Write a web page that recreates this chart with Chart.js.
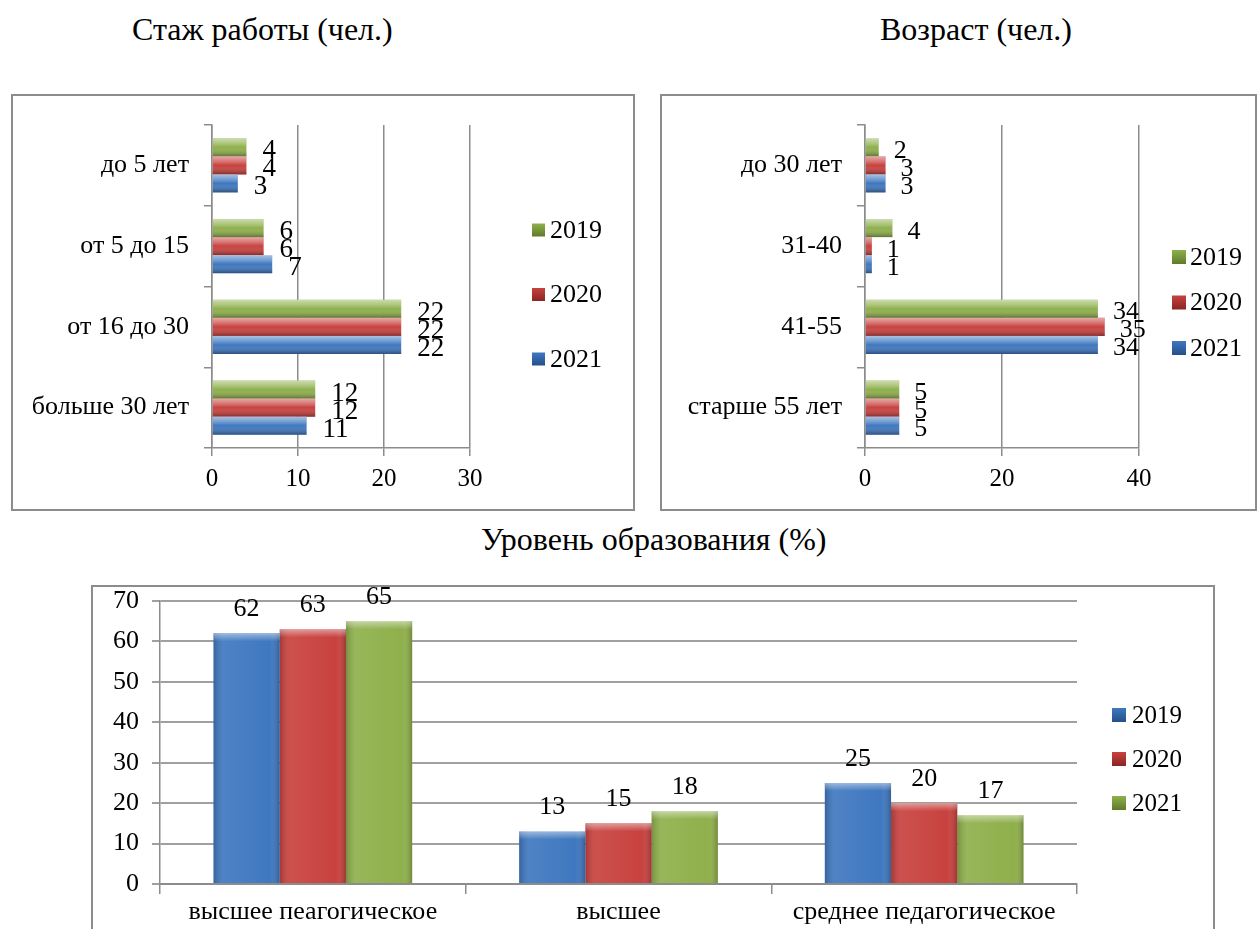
<!DOCTYPE html>
<html>
<head>
<meta charset="utf-8">
<script src="https://cdn.jsdelivr.net/npm/chart.js@4"></script>
<style>
  body { margin: 0; width: 1258px; height: 929px; overflow: hidden; background: #fff; position: relative; }
  .title { position: absolute; font-family: 'Liberation Serif'; font-size: 32px; line-height: normal; color: #000; white-space: nowrap; }
  .box { position: absolute; border: 2px solid #8c8c8c; box-sizing: border-box; }
  canvas { position: absolute; }
</style>
</head>
<body>
<div class="title" style="left:132px; top:11px;">Стаж работы (чел.)</div>
<div class="title" style="left:880px; top:11px;">Возраст (чел.)</div>
<div class="title" style="left:481px; top:521px;">Уровень образования (%)</div>

<div class="box" style="left:11px; top:94px; width:624px; height:417px;"></div>
<div class="box" style="left:660px; top:94px; width:597px; height:417px;"></div>
<div class="box" style="left:91px; top:585px; width:1124px; height:360px;"></div>

<canvas id="stazh" width="621" height="413" style="left:13px; top:96px;"></canvas>
<canvas id="vozrast" width="592" height="413" style="left:662px; top:96px;"></canvas>
<canvas id="obraz" width="1120" height="342" style="left:93px; top:587px;"></canvas>

<script>
// Стаж работы
const stazhLabels = ['до 5 лет', 'от 5 до 15', 'от 16 до 30', 'больше 30 лет']
const stazh2019 = [4, 6, 22, 12]
const stazh2020 = [4, 6, 22, 12]
const stazh2021 = [3, 7, 22, 11]
const stazhTicks = [0, 10, 20, 30]

// Возраст
const vozrastLabels = ['до 30 лет', '31-40', '41-55', 'старше 55 лет']
const vozrast2019 = [2, 4, 34, 5]
const vozrast2020 = [3, 1, 35, 5]
const vozrast2021 = [3, 1, 34, 5]
const vozrastTicks = [0, 20, 40]

// Уровень образования
const obrazLabels = ['высшее пеагогическое', 'высшее', 'среднее педагогическое']
const obraz2019 = [62, 13, 25]
const obraz2020 = [63, 15, 20]
const obraz2021 = [65, 18, 17]
const obrazTicks = [0, 10, 20, 30, 40, 50, 60, 70]

const FONT = "'Liberation Serif'"
const GREEN = '#8fb04c'
const RED = '#c8423f'
const BLUE = '#3f78c0'
const GRID = '#8c8c8c'

// bevel-like shading + value labels
const barExtras = {
    id: 'barExtras',
    afterDatasetsDraw(chart, args, opts) {
        const ctx = chart.ctx
        const horizontal = chart.options.indexAxis === 'y'
        chart.data.datasets.forEach((ds, di) => {
            const meta = chart.getDatasetMeta(di)
            meta.data.forEach((bar, i) => {
                const p = bar.getProps(['x', 'y', 'base', 'width', 'height'], true)
                ctx.save()
                ctx.font = opts.size + 'px ' + FONT
                ctx.fillStyle = '#000'
                ctx.textBaseline = 'alphabetic'
                if (horizontal) {
                    const top = p.y - p.height / 2
                    const g = ctx.createLinearGradient(0, top, 0, top + p.height)
                    g.addColorStop(0, 'rgba(255,255,255,0.55)')
                    g.addColorStop(0.3, 'rgba(255,255,255,0.25)')
                    g.addColorStop(0.5, 'rgba(255,255,255,0)')
                    g.addColorStop(1, 'rgba(0,0,0,0.35)')
                    ctx.fillStyle = g
                    ctx.fillRect(p.base, top, p.x - p.base, p.height)
                    ctx.fillStyle = '#000'
                    ctx.textAlign = 'left'
                    ctx.fillText(ds.data[i], p.x + opts.offset, p.y + opts.size * 0.33 + 2)
                } else {
                    const left = p.x - p.width / 2
                    const g = ctx.createLinearGradient(left, 0, left + p.width, 0)
                    g.addColorStop(0, 'rgba(0,0,0,0.18)')
                    g.addColorStop(0.15, 'rgba(255,255,255,0.08)')
                    g.addColorStop(0.85, 'rgba(255,255,255,0.0)')
                    g.addColorStop(1, 'rgba(0,0,0,0.22)')
                    ctx.fillStyle = g
                    ctx.fillRect(left, p.y, p.width, p.base - p.y)
                    const h = ctx.createLinearGradient(0, p.y, 0, p.y + 8)
                    h.addColorStop(0, 'rgba(255,255,255,0.45)')
                    h.addColorStop(1, 'rgba(255,255,255,0)')
                    ctx.fillStyle = h
                    ctx.fillRect(left, p.y, p.width, 8)
                    ctx.fillStyle = '#000'
                    ctx.textAlign = 'center'
                    ctx.fillText(ds.data[i], p.x, p.y - opts.offset)
                }
                ctx.restore()
            })
        })
    }
}

// legend placed where the original has it
const sideLegend = {
    id: 'sideLegend',
    afterDraw(chart, args, opts) {
        const ctx = chart.ctx
        ctx.save()
        chart.data.datasets.forEach((ds, i) => {
            const cy = opts.y + i * opts.gap
            const s = opts.box
            const g = ctx.createLinearGradient(0, cy - s / 2, 0, cy + s / 2)
            g.addColorStop(0, ds.backgroundColor)
            g.addColorStop(1, ds.darkColor)
            ctx.fillStyle = g
            ctx.fillRect(opts.x, cy - s / 2, s, s)
            ctx.fillStyle = '#000'
            ctx.font = opts.size + 'px ' + FONT
            ctx.textAlign = 'left'
            ctx.textBaseline = 'middle'
            ctx.fillText(ds.label, opts.x + s + opts.textGap, cy + 1)
        })
        ctx.restore()
    }
}

const fixWidth = (w) => (scale) => { scale.width = w; scale.paddingTop = 0; scale.paddingBottom = 0 }
const fixHeight = (h) => (scale) => { scale.height = h }

const makeHorizontal = (id, labels, d19, d20, d21, ticks, max, lay, legend) => {
    new Chart(document.getElementById(id), {
        type: 'bar',
        data: {
            labels,
            datasets: [
                { label: '2019', data: d19, backgroundColor: GREEN, darkColor: '#5f7a2a' },
                { label: '2020', data: d20, backgroundColor: RED, darkColor: '#8a2523' },
                { label: '2021', data: d21, backgroundColor: BLUE, darkColor: '#24508a' }
            ]
        },
        options: {
            indexAxis: 'y',
            responsive: false,
            animation: false,
            devicePixelRatio: 1,
            categoryPercentage: 0.67,
            barPercentage: 1,
            layout: { padding: { left: 0, top: lay.top, right: lay.right, bottom: 0 } },
            scales: {
                x: {
                    min: 0, max,
                    afterBuildTicks: (s) => { s.ticks = ticks.map(v => ({ value: v })) },
                    afterFit: fixHeight(lay.xh),
                    grid: { color: GRID, lineWidth: 1.5, tickLength: 8 },
                    border: { color: GRID, width: 1.5 },
                    ticks: { color: '#000', padding: 8, font: { family: FONT, size: 25 } }
                },
                y: {
                    afterFit: fixWidth(lay.left),
                    grid: { drawOnChartArea: false, color: GRID, lineWidth: 1.5, tickLength: 8, offset: true },
                    border: { color: GRID, width: 1.5 },
                    ticks: { color: '#000', padding: lay.ypad, font: { family: FONT, size: 26 } }
                }
            },
            plugins: {
                legend: { display: false },
                tooltip: { enabled: false },
                barExtras: { size: lay.vsize, offset: lay.voff },
                sideLegend: legend
            }
        },
        plugins: [barExtras, sideLegend]
    })
}

makeHorizontal('stazh', stazhLabels, stazh2019, stazh2020, stazh2021, stazhTicks, 30,
    { top: 29, right: 164, left: 199, xh: 61, ypad: 15, vsize: 27, voff: 16 },
    { x: 519, y: 134, gap: 64.5, box: 13, textGap: 5, size: 26 })

makeHorizontal('vozrast', vozrastLabels, vozrast2019, vozrast2020, vozrast2021, vozrastTicks, 40,
    { top: 29, right: 115, left: 203, xh: 61, ypad: 15, vsize: 26, voff: 15 },
    { x: 510, y: 161, gap: 45.5, box: 14, textGap: 4, size: 26 })

new Chart(document.getElementById('obraz'), {
    type: 'bar',
    data: {
        labels: obrazLabels,
        datasets: [
            { label: '2019', data: obraz2019, backgroundColor: BLUE, darkColor: '#24508a' },
            { label: '2020', data: obraz2020, backgroundColor: RED, darkColor: '#8a2523' },
            { label: '2021', data: obraz2021, backgroundColor: GREEN, darkColor: '#5f7a2a' }
        ]
    },
    options: {
        responsive: false,
        animation: false,
        devicePixelRatio: 1,
        categoryPercentage: 0.65,
        barPercentage: 1,
        layout: { padding: { left: 0, top: 14, right: 136, bottom: 0 } },
        scales: {
            x: {
                afterFit: fixHeight(45),
                grid: { drawOnChartArea: false, color: GRID, lineWidth: 1.5, tickLength: 10, offset: true },
                border: { color: GRID, width: 2 },
                ticks: { color: '#000', padding: 3, font: { family: FONT, size: 26 } }
            },
            y: {
                min: 0, max: 70,
                afterBuildTicks: (s) => { s.ticks = obrazTicks.map(v => ({ value: v })) },
                afterFit: fixWidth(67),
                grid: { color: '#a0a0a0', lineWidth: 2, tickLength: 8 },
                border: { color: GRID, width: 1.5 },
                ticks: { color: '#000', padding: 13, font: { family: FONT, size: 26 } }
            }
        },
        plugins: {
            legend: { display: false },
            tooltip: { enabled: false },
            barExtras: { size: 26, offset: 17 },
            sideLegend: { x: 1019, y: 128, gap: 44, box: 14, textGap: 6, size: 25 }
        }
    },
    plugins: [barExtras, sideLegend]
})
</script>
</body>
</html>
